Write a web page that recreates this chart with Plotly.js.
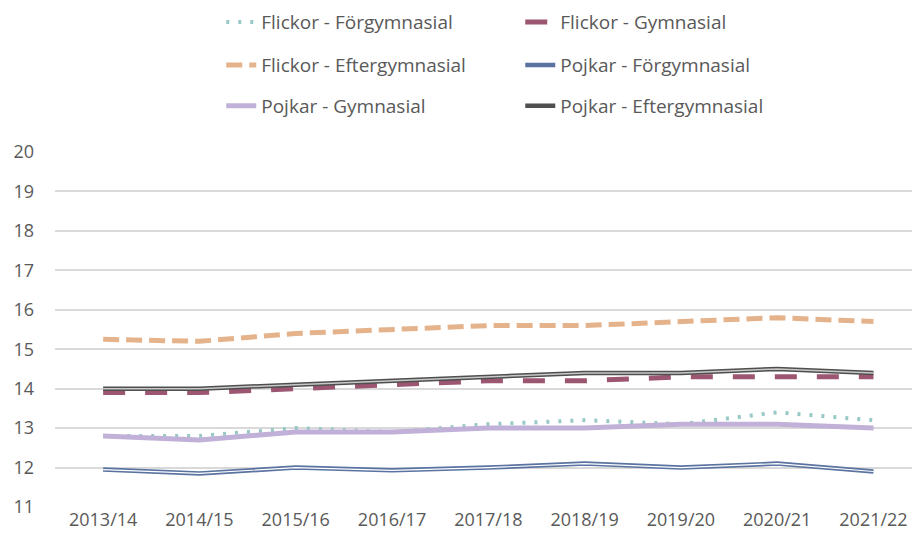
<!DOCTYPE html>
<html>
<head>
<meta charset="utf-8">
<script src="https://cdn.plot.ly/plotly-3.0.1.min.js"></script>
<style>
  html, body { margin: 0; padding: 0; background: #fff; }
  #myDiv { width: 914px; height: 544px; }
</style>
</head>
<body>
<div id="myDiv"></div>
<script>
var years = ['2013/14', '2014/15', '2015/16', '2016/17', '2017/18', '2018/19', '2019/20', '2020/21', '2021/22'];

var flickorForgymnasial = [12.8, 12.8, 13.0, 12.9, 13.1, 13.2, 13.1, 13.4, 13.2];
var flickorGymnasial = [13.9, 13.9, 14.0, 14.1, 14.2, 14.2, 14.3, 14.3, 14.3];
var flickorEftergymnasial = [15.25, 15.2, 15.4, 15.5, 15.6, 15.6, 15.7, 15.8, 15.7];
var pojkarForgymnasial = [11.95, 11.85, 12.0, 11.93, 12.0, 12.1, 12.0, 12.1, 11.9];
var pojkarGymnasial = [12.8, 12.7, 12.9, 12.9, 13.0, 13.0, 13.1, 13.1, 13.0];
var pojkarEftergymnasial = [14.0, 14.0, 14.1, 14.2, 14.3, 14.4, 14.4, 14.5, 14.4];

var textColor = '#595959';
var fontFamily = 'Open Sans, sans-serif';

var t1 = {
    x: years, y: flickorForgymnasial,
    name: 'Flickor - Förgymnasial',
    mode: 'lines', type: 'scatter', legend: 'legend',
    line: { color: '#97c9c6', width: 4, dash: '3px,9px' }
};
var t2 = {
    x: years, y: flickorGymnasial,
    name: 'Flickor - Gymnasial',
    mode: 'lines', type: 'scatter', legend: 'legend',
    line: { color: '#9c5672', width: 5, dash: '22px,20px' }
};
var t3 = {
    x: years, y: flickorEftergymnasial,
    name: 'Flickor - Eftergymnasial',
    mode: 'lines', type: 'scatter', legend: 'legend2',
    line: { color: '#e4b38b', width: 5, dash: '16px,7px' }
};
var t4 = {
    x: years, y: pojkarForgymnasial,
    name: 'Pojkar - Förgymnasial',
    mode: 'lines', type: 'scatter', legend: 'legend2',
    line: { color: '#5a73a0', width: 4.5 }
};
var t4in = {
    x: years, y: pojkarForgymnasial,
    mode: 'lines', type: 'scatter', showlegend: false, hoverinfo: 'skip',
    line: { color: '#ffffff', width: 1.2 }
};
var t5 = {
    x: years, y: pojkarGymnasial,
    name: 'Pojkar - Gymnasial',
    mode: 'lines', type: 'scatter', legend: 'legend3',
    line: { color: '#c1b0d7', width: 5 }
};
var t6 = {
    x: years, y: pojkarEftergymnasial,
    name: 'Pojkar - Eftergymnasial',
    mode: 'lines', type: 'scatter', legend: 'legend3',
    line: { color: '#4f4f4f', width: 4.5 }
};
var t6in = {
    x: years, y: pojkarEftergymnasial,
    mode: 'lines', type: 'scatter', showlegend: false, hoverinfo: 'skip',
    line: { color: '#c8c8c8', width: 1.5 }
};

function legendRow(y) {
    return {
        orientation: 'h',
        x: 0.194, xanchor: 'left',
        y: y, yanchor: 'middle',
        entrywidth: 254, entrywidthmode: 'pixels',
        font: { family: fontFamily, size: 19, color: textColor },
        bgcolor: 'rgba(0,0,0,0)'
    };
}

var layout = {
    width: 914,
    height: 544,
    margin: { l: 55, r: 2, t: 152, b: 37 },
    paper_bgcolor: '#ffffff',
    plot_bgcolor: '#ffffff',
    font: { family: fontFamily, size: 18, color: textColor },
    showlegend: true,
    legend: legendRow(1.366),
    legend2: legendRow(1.245),
    legend3: legendRow(1.130),
    xaxis: {
        type: 'category',
        range: [-0.5, 8.4],
        showgrid: false,
        zeroline: false,
        showline: false,
        ticks: '',
        tickfont: { family: fontFamily, size: 18, color: textColor }
    },
    yaxis: {
        range: [11, 20],
        dtick: 1,
        showgrid: true,
        gridcolor: '#d9d9d9',
        gridwidth: 2,
        zeroline: false,
        showline: false,
        ticks: '',
        ticklabelstandoff: 20,
        tickfont: { family: fontFamily, size: 18, color: textColor }
    }
};

var config = { displayModeBar: false, displaylogo: false, staticPlot: true };
var data = [t1, t2, t3, t4, t4in, t5, t6, t6in];

Plotly.newPlot('myDiv', data, layout, config);
</script>
</body>
</html>
